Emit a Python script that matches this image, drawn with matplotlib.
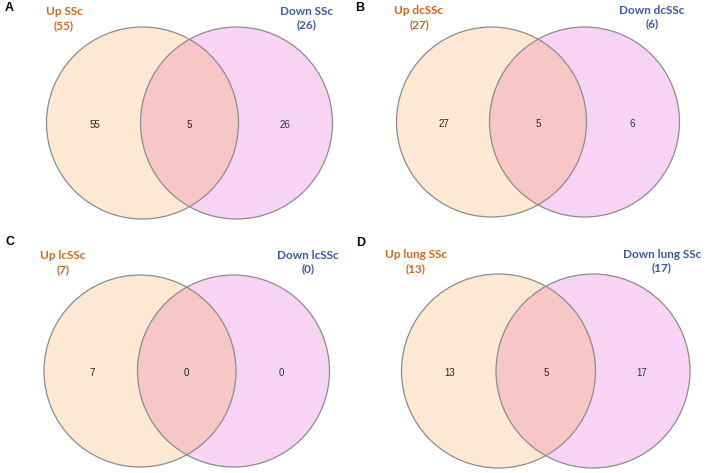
"""Four two-set Venn panels (up vs down genes in SSc subsets)."""
import matplotlib
matplotlib.use("Agg")
import matplotlib.pyplot as plt
from matplotlib.patches import Circle

panels = ["A", "B", "C", "D"]
up_names = ["Up SSc", "Up dcSSc", "Up lcSSc", "Up lung SSc"]
down_names = ["Down SSc", "Down dcSSc", "Down lcSSc", "Down lung SSc"]
up_totals = [55, 27, 7, 13]
down_totals = [26, 6, 0, 17]
up_only = [55, 27, 7, 13]
shared = [5, 5, 0, 5]
down_only = [26, 6, 0, 17]

# layout in pixel units
layout = [
    dict(lx=142.5, cy=123, rx=236.5, r=96, px=5, py=8, ly=12, upx=64, dnx=307),
    dict(lx=491.5, cy=122, rx=584.5, r=95, px=355, py=8, ly=11, upx=419, dnx=652),
    dict(lx=140, cy=371, rx=233.5, r=96, px=5, py=242, ly=256, upx=63, dnx=308),
    dict(lx=498.5, cy=371, rx=593, r=97, px=356, py=243, ly=255, upx=416, dnx=662),
]

UP_FILL = "#fde9d3"
DOWN_FILL = "#f8d4f4"
BOTH_FILL = "#f7c6c6"
EDGE = "#8c8c8c"
UP_TXT = "#d4661e"
DOWN_TXT = "#3a5ba6"

fig = plt.figure(figsize=(7.09, 4.73), dpi=100)
ax = fig.add_axes([0, 0, 1, 1])
ax.set_xlim(0, 709); ax.set_ylim(473, 0); ax.set_aspect("equal"); ax.axis("off")

for i, L in enumerate(layout):
    left = Circle((L["lx"], L["cy"]), L["r"], fc=UP_FILL, ec="none")
    right = Circle((L["rx"], L["cy"]), L["r"], fc=DOWN_FILL, ec="none")
    ax.add_patch(left); ax.add_patch(right)
    both = Circle((L["lx"], L["cy"]), L["r"], fc=BOTH_FILL, ec="none")
    ax.add_patch(both); both.set_clip_path(right)
    for cx in (L["lx"], L["rx"]):
        ax.add_patch(Circle((cx, L["cy"]), L["r"], fc="none", ec=EDGE, lw=0.9))

    mid = (L["lx"] + L["rx"]) / 2
    ty = L["cy"] + 1.5
    kw = dict(ha="center", va="center", fontsize=7, family="Liberation Sans")
    ax.text(L["lx"] - L["r"] * 0.5, ty, str(up_only[i]), color="#222222", **kw)
    ax.text(mid, ty, str(shared[i]), color="#222222", **kw)
    ax.text(L["rx"] + L["r"] * 0.5, ty, str(down_only[i]), color="#223366", **kw)

    ax.text(L["px"], L["py"], panels[i], ha="left", va="center", fontsize=9,
            fontweight="bold", family="Liberation Sans")
    lab = dict(ha="center", va="center", fontsize=8.5, fontweight="bold", family="Lato",
               linespacing=1.3)
    ax.text(L["upx"], L["ly"] + 6.5, f"{up_names[i]}\n({up_totals[i]})", color=UP_TXT, **lab)
    ax.text(L["dnx"], L["ly"] + 6, f"{down_names[i]}\n({down_totals[i]})", color=DOWN_TXT, **lab)

fig.savefig("out.png", dpi=100)
